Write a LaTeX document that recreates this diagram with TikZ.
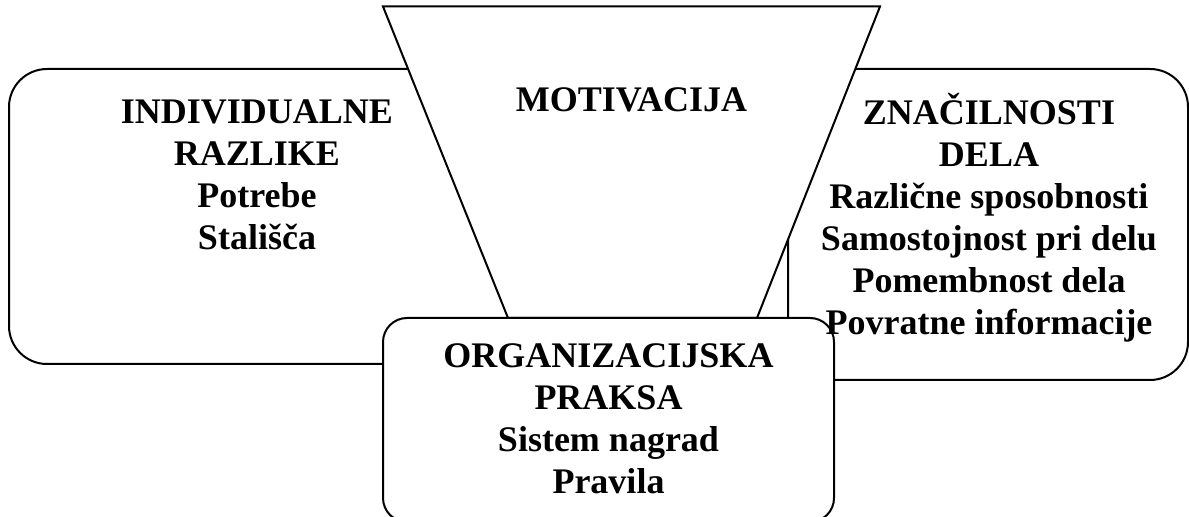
\documentclass[tikz,border=0pt]{standalone}
\usepackage{fontspec}
\setmainfont{Liberation Serif}
\usetikzlibrary{positioning}

\tikzset{
    box/.style={line width=1pt, rounded corners=19pt},
    smallbox/.style={line width=1pt, rounded corners=12pt, fill=white},
    funnel/.style={line width=1pt, fill=white},
    label/.style={font=\bfseries\fontsize{18}{21}\selectfont, align=center, anchor=north, inner sep=0pt}
}

\begin{document}
\begin{tikzpicture}[x=0.5pt, y=-0.5pt]
    \useasboundingbox (0,0) rectangle (1189,517);

    % Side boxes
    \draw[box] (9,69) rectangle (510,364);
    \draw[box] (788,69) rectangle (1188,380);

    % Funnel
    \draw[funnel] (383,6.5) -- (880,6.5) -- (757,318) -- (508,318) -- cycle;

    % Bottom box
    \draw[smallbox] (383,318) rectangle (834,522);

    % Labels
    \node[label] (motiv) at (631.5,82) {\strut MOTIVACIJA};
    \node[label] (indiv) at (257,94) {\strut INDIVIDUALNE\\RAZLIKE\\Potrebe\\Stališča};
    \node[label] (delo) at (989,93) {\strut ZNAČILNOSTI\\DELA\\Različne sposobnosti\\Samostojnost pri delu\\Pomembnost dela\\Povratne informacije};
    \node[label] (praksa) at (608.5,338) {\strut ORGANIZACIJSKA\\PRAKSA\\Sistem nagrad\\Pravila};
\end{tikzpicture}
\end{document}
